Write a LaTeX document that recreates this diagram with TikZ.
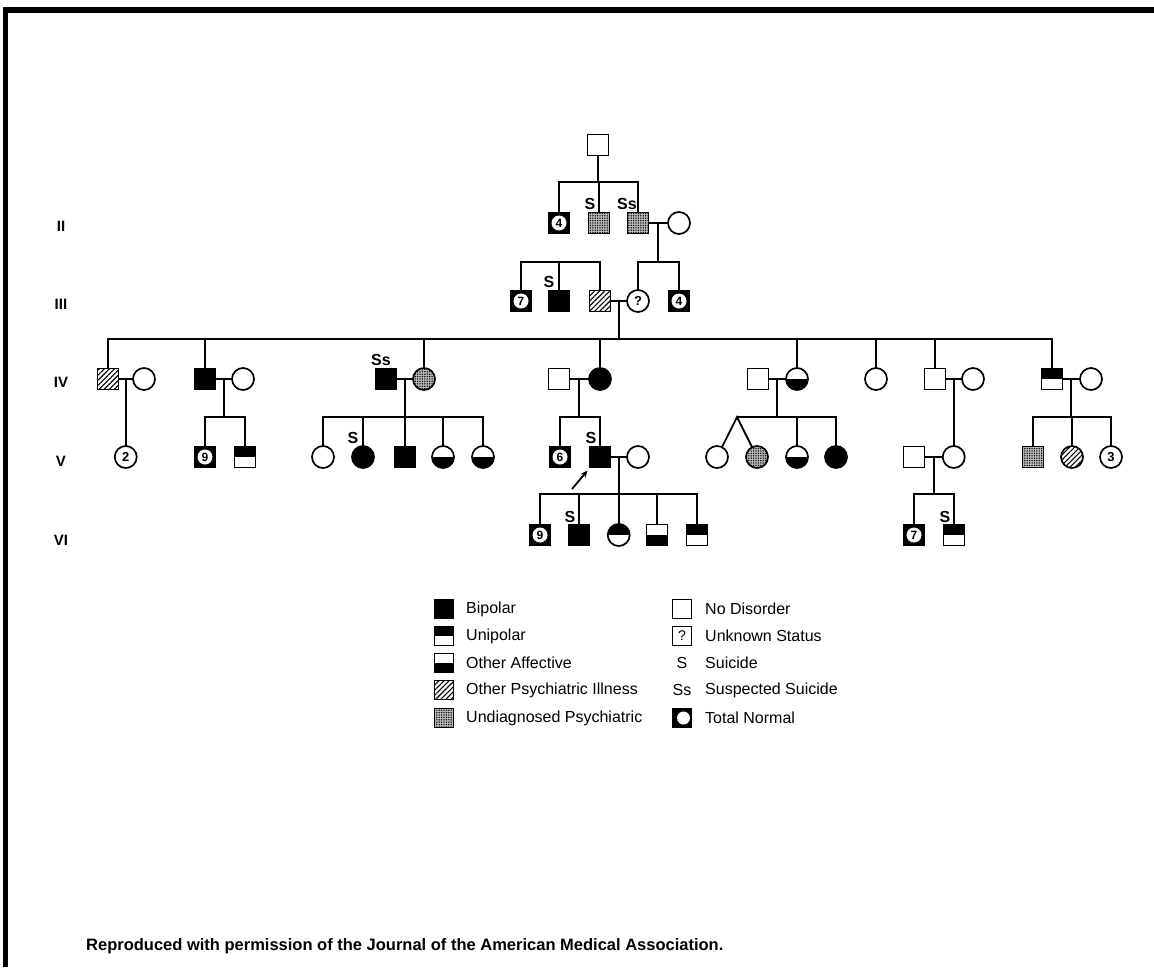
\documentclass[tikz,border=0pt]{standalone}
\usepackage{fontspec}
\setmainfont{Liberation Sans}
\usetikzlibrary{patterns.meta,arrows.meta,calc}
\begin{document}
\begin{tikzpicture}[x=1pt,y=-1pt,
  sym/.style={draw,line width=1.7pt,inner sep=0pt,outer sep=0pt},
  sq/.style={sym,rectangle,minimum size=21pt},
  ci/.style={sym,circle,minimum size=22pt},
  lsq/.style={sym,rectangle,minimum size=19pt},
  bip/.style={fill=black},
  unip/.style={path picture={\fill[black] (path picture bounding box.north west) rectangle (path picture bounding box.east);}},
  oaff/.style={path picture={\fill[black] (path picture bounding box.west) rectangle (path picture bounding box.south east);}},
  hatch/.style={pattern={Lines[angle=45,distance=3.6pt,line width=1.1pt]}},
  stip/.style={preaction={fill=gray!55},pattern={Dots[distance=2.4pt,radius=0.75pt]}},
  tnum/.style={circle,fill=white,minimum size=15pt,inner sep=0pt,font=\bfseries\fontsize{12}{12}\selectfont},
  cnum/.style={font=\bfseries\fontsize{13}{13}\selectfont},
  lab/.style={font=\bfseries\fontsize{16}{16}\selectfont,inner sep=0pt},
  gen/.style={font=\bfseries\fontsize{15}{15}\selectfont,inner sep=0pt},
  leg/.style={font=\fontsize{16}{16}\selectfont,anchor=west,inner sep=0pt},
  ln/.style={line width=1.8pt}
]
\useasboundingbox (0,0) rectangle (1154,967);
% frame
\draw[line width=6pt] (3,10) -- (1154,10);
\draw[line width=5pt] (5,7) -- (5,967);

% generation labels
\node[gen] (gII) at (61,226) {II};
\node[gen] (gIII) at (61,304) {III};
\node[gen] (gIV) at (61,382) {IV};
\node[gen] (gV) at (61,461) {V};
\node[gen] (gVI) at (61,540) {VI};

% line levels
\coordinate (sII) at (598,182);
\coordinate (sIIIa) at (559,262);
\coordinate (sIIIb) at (657,262);
\coordinate (sIV) at (619,339);
\coordinate (sV) at (400,417);
\coordinate (sVI) at (600,494);

% Gen I
\node[sq] (i1) at (598,145) {};

% Gen II
\node[sq,bip] (ii1) at (559,223) {}; \node[tnum] (ii1n) at (ii1) {4};
\node[sq,stip] (ii2) at (599,223) {};
\node[sq,stip] (ii3) at (638,223) {};
\node[ci] (ii4) at (679,223) {};
\node[lab] (ii2s) at (590,204) {S};
\node[lab] (ii3s) at (627,204) {Ss};
\draw[ln] (i1) -- (i1 |- sII);
\draw[ln] (ii1.north) |- (ii3.north |- sII) -- (ii3.north);
\draw[ln] (ii2.north) -- (ii2.north |- sII);
\draw[ln] (ii3) -- (ii4);
\coordinate (mII) at ($(ii3.east)!0.5!(ii4.west)$);
\draw[ln] (mII) -- (mII |- sIIIb);

% Gen III
\node[sq,bip] (iii1) at (521,301) {}; \node[tnum] (iii1n) at (iii1) {7};
\node[sq,bip] (iii2) at (559,301) {};
\node[sq,hatch] (iii3) at (600,301) {};
\node[ci,cnum] (iii4) at (638,301) {?};
\node[sq,bip] (iii5) at (679,301) {}; \node[tnum] (iii5n) at (iii5) {4};
\node[lab] (iii2s) at (549,282) {S};
\draw[ln] (iii1.north) |- (iii3.north |- sIIIa) -- (iii3.north);
\draw[ln] (iii2.north) -- (iii2.north |- sIIIa);
\draw[ln] (iii4.north) |- (iii5.north |- sIIIb) -- (iii5.north);
\draw[ln] (iii3) -- (iii4);
\coordinate (mIII) at ($(iii3.east)!0.5!(iii4.west)$);
\draw[ln] (mIII) -- (mIII |- sIV);

% Gen IV
\node[sq,hatch] (iv1) at (108,379) {};
\node[ci] (iv2) at (144,379) {};
\node[sq,bip] (iv3) at (205,379) {};
\node[ci] (iv4) at (243,379) {};
\node[sq,bip] (iv5) at (386,379) {};
\node[ci,stip] (iv6) at (424,379) {};
\node[lab] (iv5s) at (381,360) {Ss};
\node[sq] (iv7) at (559,379) {};
\node[ci,bip] (iv8) at (600,379) {};
\node[sq] (iv9) at (758,379) {};
\node[ci,oaff] (iv10) at (797,379) {};
\node[ci] (iv11) at (876,379) {};
\node[sq] (iv12) at (935,379) {};
\node[ci] (iv13) at (973,379) {};
\node[sq,unip] (iv14) at (1052,379) {};
\node[ci] (iv15) at (1091,379) {};
\draw[ln] (iv1.north) |- (iv14.north |- sIV) -- (iv14.north);
\foreach \n in {iv3,iv6,iv8,iv10,iv11,iv12} \draw[ln] (\n.north) -- (\n.north |- sIV);
\foreach \a/\b in {iv1/iv2,iv3/iv4,iv5/iv6,iv7/iv8,iv9/iv10,iv12/iv13,iv14/iv15} \draw[ln] (\a) -- (\b);
\coordinate (m1) at ($(iv1.east)!0.5!(iv2.west)$);
\coordinate (m2) at ($(iv3.east)!0.5!(iv4.west)$);
\coordinate (m3) at ($(iv5.east)!0.5!(iv6.west)$);
\coordinate (m4) at ($(iv7.east)!0.5!(iv8.west)$);
\coordinate (m5) at ($(iv9.east)!0.5!(iv10.west)$);
\coordinate (m6) at ($(iv12.east)!0.5!(iv13.west)$);
\coordinate (m7) at ($(iv14.east)!0.5!(iv15.west)$);

% Gen V
\node[ci,cnum] (v1) at (m1 |- 0,457) {2};
\node[sq,bip] (v2) at (205,457) {}; \node[tnum] (v2n) at (v2) {9};
\node[sq,unip] (v3) at (245,457) {};
\node[ci] (v4) at (323,457) {};
\node[ci,bip] (v5) at (363,457) {};
\node[sq,bip] (v6) at (405,457) {};
\node[ci,oaff] (v7) at (443,457) {};
\node[ci,oaff] (v8) at (483,457) {};
\node[sq,bip] (v9) at (560,457) {}; \node[tnum] (v9n) at (v9) {6};
\node[sq,bip] (v10) at (600,457) {};
\node[ci] (v20) at (638,457) {};
\coordinate (tw) at (737,417);
\node[ci] (v11) at (717,457) {};
\node[ci,stip] (v12) at (757,457) {};
\node[ci,oaff] (v13) at (797,457) {};
\node[ci,bip] (v14) at (836,457) {};
\node[sq] (v15) at (914,457) {};
\node[ci] (v16) at (m6 |- 0,457) {};
\node[sq,stip] (v17) at (1033,457) {};
\node[ci,hatch] (v18) at (1072,457) {};
\node[ci,cnum] (v19) at (1111,457) {3};
\node[lab] (v5s) at (353,438) {S};
\node[lab] (v10s) at (591,438) {S};
\draw[ln] (m1) -- (v1.north);
\draw[ln] (m2) -- (m2 |- sV);
\draw[ln] (v2.north) |- (v3.north |- sV) -- (v3.north);
\draw[ln] (m3) -- (m3 |- sV);
\draw[ln] (v4.north) |- (v8.north |- sV) -- (v8.north);
\foreach \n in {v5,v6,v7} \draw[ln] (\n.north) -- (\n.north |- sV);
\draw[ln] (m4) -- (m4 |- sV);
\draw[ln] (v9.north) |- (v10.north |- sV) -- (v10.north);
\draw[ln] (m5) -- (m5 |- sV);
\draw[ln] (tw) -- (v14.north |- sV) -- (v14.north);
\draw[ln] (v13.north) -- (v13.north |- sV);
\draw[ln] (v11) -- (tw) -- (v12);
\draw[ln] (m6) -- (v16.north);
\draw[ln] (m7) -- (m7 |- sV);
\draw[ln] (v17.north) |- (v19.north |- sV) -- (v19.north);
\draw[ln] (v18.north) -- (v18.north |- sV);
\draw[ln] (v10) -- (v20);
\draw[ln] (v15) -- (v16);
\coordinate (m8) at ($(v10.east)!0.5!(v20.west)$);
\coordinate (m9) at ($(v15.east)!0.5!(v16.west)$);
\coordinate (arrS) at (572,489);
\draw[line width=1.8pt,-{Stealth[length=7pt,width=6pt]}] (arrS) -- ([xshift=-2pt,yshift=-3pt]v10.south west);

% Gen VI
\node[sq,bip] (vi1) at (540,535) {}; \node[tnum] (vi1n) at (vi1) {9};
\node[sq,bip] (vi2) at (579,535) {};
\node[ci,unip] (vi3) at (m8 |- 0,535) {};
\node[sq,oaff] (vi4) at (657,535) {};
\node[sq,unip] (vi5) at (697,535) {};
\node[sq,bip] (vi6) at (914,535) {}; \node[tnum] (vi6n) at (vi6) {7};
\node[sq,unip] (vi7) at (954,535) {};
\node[lab] (vi2s) at (570,517) {S};
\node[lab] (vi7s) at (945,517) {S};
\draw[ln] (m8) -- (vi3.north);
\draw[ln] (vi1.north) |- (vi5.north |- sVI) -- (vi5.north);
\foreach \n in {vi2,vi4} \draw[ln] (\n.north) -- (\n.north |- sVI);
\draw[ln] (m9) -- (m9 |- sVI);
\draw[ln] (vi6.north) |- (vi7.north |- sVI) -- (vi7.north);

% Legend column 1
\node[lsq,bip] (k1) at (444,609) {};
\node[lsq,unip] (k2) at (444,636) {};
\node[lsq,oaff] (k3) at (444,663) {};
\node[lsq,hatch] (k4) at (444,690) {};
\node[lsq,stip] (k5) at (444,718) {};
\node[leg] (t1) at (466,609) {Bipolar};
\node[leg] (t2) at (466,636) {Unipolar};
\node[leg] (t3) at (466,663) {Other Affective};
\node[leg] (t4) at (466,690) {Other Psychiatric Illness};
\node[leg] (t5) at (466,718) {Undiagnosed Psychiatric};
% Legend column 2
\node[lsq] (k6) at (682,609) {};
\node[lsq,font=\fontsize{14}{14}\selectfont] (k7) at (682,636) {?};
\node[font=\fontsize{16}{16}\selectfont,inner sep=0pt] (k8) at (682,663) {S};
\node[font=\fontsize{16}{16}\selectfont,inner sep=0pt] (k9) at (682,690) {Ss};
\node[lsq,bip] (k10) at (682,718) {}; \node[circle,fill=white,minimum size=13pt,inner sep=0pt] (k10c) at ([xshift=1.5pt]k10) {};
\node[leg] (t6) at (705,609) {No Disorder};
\node[leg] (t7) at (705,636) {Unknown Status};
\node[leg] (t8) at (705,663) {Suicide};
\node[leg] (t9) at (705,690) {Suspected Suicide};
\node[leg] (t10) at (705,718) {Total Normal};

% credit
\node[anchor=west,inner sep=0pt,font=\bfseries\fontsize{16.5}{16.5}\selectfont] (credit) at (86,946) {Reproduced with permission of the Journal of the American Medical Association.};
\end{tikzpicture}
\end{document}
